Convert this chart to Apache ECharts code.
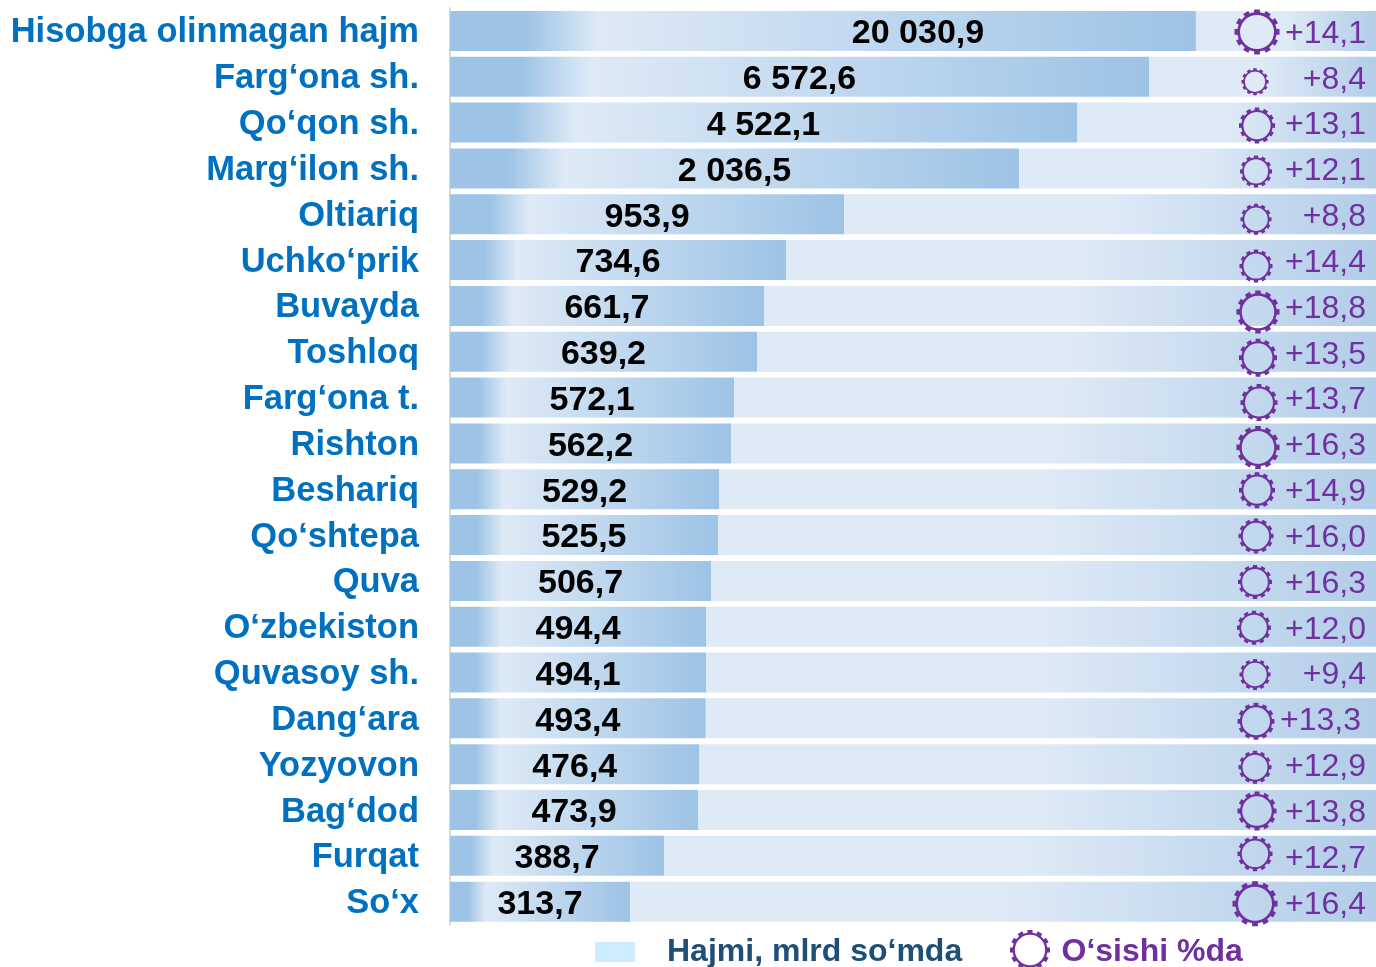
<!DOCTYPE html>
<html>
<head>
<meta charset="utf-8">
<style>html,body{margin:0;padding:0;background:#fff}#c{width:1376px;height:967px}</style>
<script src="https://cdn.jsdelivr.net/npm/echarts@6/dist/echarts.min.js"></script>
</head>
<body>
<div id="c"></div>
<script>
const categories = ['Hisobga olinmagan hajm','Farg‘ona sh.','Qo‘qon sh.','Marg‘ilon sh.','Oltiariq','Uchko‘prik','Buvayda','Toshloq','Farg‘ona t.','Rishton','Beshariq','Qo‘shtepa','Quva','O‘zbekiston','Quvasoy sh.','Dang‘ara','Yozyovon','Bag‘dod','Furqat','So‘x'];
const volume = [20030.9,6572.6,4522.1,2036.5,953.9,734.6,661.7,639.2,572.1,562.2,529.2,525.5,506.7,494.4,494.1,493.4,476.4,473.9,388.7,313.7];
const growth = [14.1,8.4,13.1,12.1,8.8,14.4,18.8,13.5,13.7,16.3,14.9,16.0,16.3,12.0,9.4,13.3,12.9,13.8,12.7,16.4];

// The source chart's value scale is not to proportion: it is compressed unevenly.
const axisMax = 20344.7;
const axisBreaks = [[340,355.7],[420,446],[478,484],[498,502.1],[510,516.7],[526.5,528.4],[540,552.1],[564,568.6],[590,617.1],[645,655.3],[680,714.5],[780,898.2],[1100,1877.6],[2100,4484.6],[4600,6525],[6600,19976.5]];

// Marker appearance (diameter, and nudge from the row centre).
const gearDia = [45,27,36,32,31,33,43,38,37,43,36,35,34,34,31,37,33,39,35,45];
const gearDx  = [1,-1,1,0,0,0,2,2,3,2,1,0,-1,-2,-1,0,-1,1,-1,-1];
const gearDy  = [1,5,3,3,5,6,6,6,5,4,1,1,1,1,2,3,3,1,-2,2];

function gearPath(){
  const teeth=12, tip=50, root=43.5, hole=37.5;
  const pts=[];
  for(let i=0;i<teeth;i++){
    const a=i*2*Math.PI/teeth-Math.PI/2, w=0.13;
    const p=(r,t)=>[(50+r*Math.cos(t)).toFixed(2),(50+r*Math.sin(t)).toFixed(2)];
    pts.push(p(root,a-w*1.1),p(tip,a-w),p(tip,a+w),p(root,a+w*1.1));
  }
  let d='M'+pts.map(p=>p.join(' ')).join('L')+'Z';
  d+=`M${50+hole} 50A${hole} ${hole} 0 1 0 ${50-hole} 50A${hole} ${hole} 0 1 0 ${50+hole} 50Z`;
  return 'path://'+d;
}
const gear = gearPath();
const FONT = '"Liberation Sans", Arial, sans-serif';
const PURPLE = '#7030A0';
const grad = stops => ({type:'linear',x:0,y:0,x2:1,y2:0,colorStops:stops.map(s=>({offset:s[0],color:s[1]}))});

const chart = echarts.init(document.getElementById('c'));
chart.setOption({
  animation:false,
  backgroundColor:'#fff',
  textStyle:{fontFamily:FONT},
  grid:{left:450,top:8,width:926,height:916.6},
  legend:[
    {left:590,top:931,selectedMode:false,itemWidth:40,itemHeight:20,
     data:[{name:'Hajmi, mlrd so‘mda',icon:'rect',itemStyle:{color:'#CCECFF'}}],
     textStyle:{fontFamily:FONT,fontSize:32,fontWeight:'bold',color:'#1F4E79',padding:[0,0,8,27]}},
    {left:1005,top:925,selectedMode:false,itemWidth:41,itemHeight:40,
     data:[{name:'O‘sishi %da',icon:gear,itemStyle:{color:PURPLE}}],
     formatter:n=>'{a|'+n+'}',
     textStyle:{rich:{a:{fontFamily:FONT,fontSize:32,fontWeight:'bold',color:PURPLE,padding:[4,0,0,6]}}}}
  ],
  xAxis:[
    {type:'value',min:0,max:axisMax,
     breaks:axisBreaks.map(b=>({start:b[0],end:b[1],gap:0})),
     breakArea:{show:false},
     axisLine:{show:false},axisTick:{show:false},axisLabel:{show:false},splitLine:{show:false}},
    {type:'value',min:0,max:926,show:false,splitLine:{show:false}}
  ],
  yAxis:{type:'category',data:categories,inverse:true,
    axisLine:{lineStyle:{color:'#D9D9D9',width:2}},axisTick:{show:false},
    axisLabel:{margin:31,formatter:v=>'{a|'+v+'}',
      rich:{a:{fontFamily:FONT,fontSize:34.5,fontWeight:'bold',color:'#0070C0',padding:[4,0,0,0]}}}},
  series:[
    {name:'Hajmi, mlrd so‘mda',type:'bar',stack:'row',barWidth:40,
     itemStyle:{color:grad([[0,'#9DC3E6'],[0.1,'#9DC3E6'],[0.2,'#DEEAF6'],[1,'#9DC3E6']])},
     label:{show:true,position:'inside',fontFamily:FONT,fontSize:34,fontWeight:'bold',color:'#000',
       formatter:p=>{
         const [a,b]=p.value.toFixed(1).split('.');
         return a.replace(/\B(?=(\d{3})+$)/g,' ')+','+b;
       }},
     data:volume.map((v,i)=>({value:v,label:i===0?{offset:[95,3]}:{offset:[0,3]}}))},
    {name:'track',type:'bar',stack:'row',silent:true,barWidth:40,
     itemStyle:{color:grad([[0,'#DEEAF6'],[0.5,'#DEEAF6'],[1,'#B2CDE8']])},
     label:{show:true,position:'insideRight',distance:10,fontFamily:FONT,fontSize:32,color:PURPLE,
       formatter:p=>'+'+growth[p.dataIndex].toFixed(1).replace('.',',')},
     data:volume.map((v,i)=>({value:axisMax-v,label:i===15?{offset:[-5,3]}:{offset:[0,3]}}))},
    {name:'O‘sishi %da',type:'scatter',xAxisIndex:1,silent:true,z:5,
     symbol:gear,
     itemStyle:{color:PURPLE,opacity:1},
     data:growth.map((g,i)=>({value:[806,categories[i]],growth:g,symbolSize:gearDia[i],symbolOffset:[gearDx[i],gearDy[i]]}))}
  ]
});
</script>
</body>
</html>
